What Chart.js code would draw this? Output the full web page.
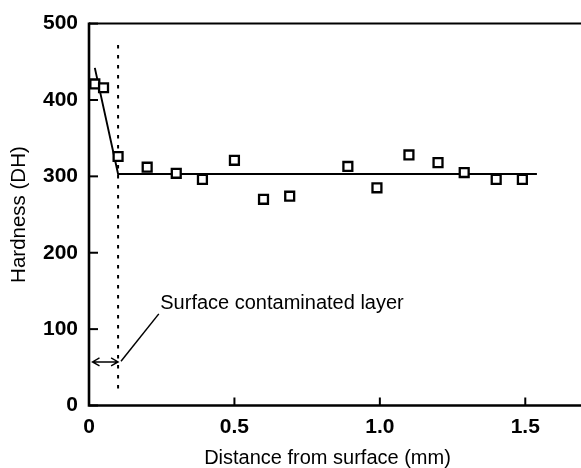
<!DOCTYPE html>
<html>
<head>
<meta charset="utf-8">
<script src="https://cdn.jsdelivr.net/npm/chart.js@4/dist/chart.umd.min.js"></script>
<style>
  html, body { margin: 0; padding: 0; background: #fff; }
  #wrap { width: 581px; height: 468px; position: relative; }
</style>
</head>
<body>
<div id="wrap"><canvas id="c" width="581" height="468"></canvas></div>
<script>
// Measured hardness profile
const depth    = [0.02, 0.05, 0.10, 0.20, 0.30, 0.39, 0.50, 0.60, 0.69, 0.89, 0.99, 1.10, 1.20, 1.29, 1.40, 1.49];
const hardness = [421, 416, 326, 312, 304, 296, 321, 270, 274, 313, 285, 328, 318, 305, 296, 296];

// Fitted trend: steep drop through the contaminated layer, then a plateau
const trendX = [0.02, 0.10, 1.54];
const trendY = [442, 303, 303];

// Boundary of the contaminated layer
const layerX = [0.10, 0.10];
const layerY = [472, 14];

// Width arrow and label leader
const arrowX = [0.012, 0.10];
const arrowY = 57;
const leaderX = [0.11, 0.24];
const leaderY = [58, 120];
const noteText = 'Surface contaminated layer';
const noteX = 0.245;
const noteY = 133;

// Axes
const xTicks = [0, 0.5, 1.0, 1.5];
const yTicks = [0, 100, 200, 300, 400, 500];
const xMax = 1.64;
const xTitle = 'Distance from surface (mm)';
const yTitle = 'Hardness (DH)';

const FONT = "'Liberation Sans', Arial, Helvetica, sans-serif";

const framePlugin = {
  id: 'frame',
  afterDraw(chart) {
    const ctx = chart.ctx;
    const a = chart.chartArea;
    const xs = chart.scales.x, ys = chart.scales.y;
    const W = chart.width;
    ctx.save();
    ctx.strokeStyle = '#000';
    ctx.lineCap = 'butt';
    // left and bottom axes
    ctx.lineWidth = 2.6;
    ctx.beginPath();
    ctx.moveTo(a.left, a.top - 1);
    ctx.lineTo(a.left, a.bottom);
    ctx.lineTo(W, a.bottom);
    ctx.stroke();
    // top frame line
    ctx.lineWidth = 2;
    ctx.beginPath();
    ctx.moveTo(a.left, a.top);
    ctx.lineTo(W, a.top);
    ctx.stroke();
    // inward tick marks
    ctx.lineWidth = 2;
    xTicks.forEach(v => {
      const px = xs.getPixelForValue(v);
      ctx.beginPath(); ctx.moveTo(px, a.bottom); ctx.lineTo(px, a.bottom - 8); ctx.stroke();
    });
    yTicks.forEach(v => {
      const py = ys.getPixelForValue(v);
      ctx.beginPath(); ctx.moveTo(a.left, py); ctx.lineTo(a.left + 9, py); ctx.stroke();
    });
    // double-headed arrow across the layer
    const x0 = xs.getPixelForValue(arrowX[0]);
    const x1 = xs.getPixelForValue(arrowX[1]);
    const ay = ys.getPixelForValue(arrowY);
    ctx.lineWidth = 1.4;
    ctx.beginPath();
    ctx.moveTo(x0, ay); ctx.lineTo(x1, ay);
    ctx.moveTo(x0 + 7, ay - 4); ctx.lineTo(x0, ay); ctx.lineTo(x0 + 7, ay + 4);
    ctx.moveTo(x1 - 7, ay - 4); ctx.lineTo(x1, ay); ctx.lineTo(x1 - 7, ay + 4);
    ctx.stroke();
    // annotation text
    ctx.fillStyle = '#000';
    ctx.font = '20px ' + FONT;
    ctx.textAlign = 'left';
    ctx.textBaseline = 'middle';
    ctx.fillText(noteText, xs.getPixelForValue(noteX), ys.getPixelForValue(noteY));
    ctx.restore();
  }
};

const pts = depth.map((d, i) => ({ x: d, y: hardness[i] }));
const trend = trendX.map((d, i) => ({ x: d, y: trendY[i] }));
const layer = layerX.map((d, i) => ({ x: d, y: layerY[i] }));
const leader = leaderX.map((d, i) => ({ x: d, y: leaderY[i] }));

new Chart(document.getElementById('c'), {
  type: 'scatter',
  data: {
    datasets: [
      { data: trend, showLine: true, borderColor: '#000', borderWidth: 1.9, pointRadius: 0, clip: false, order: 3 },
      { data: layer, showLine: true, borderColor: '#000', borderWidth: 2, borderDash: [3.5, 6.5], pointRadius: 0, clip: false, order: 4 },
      { data: leader, showLine: true, borderColor: '#000', borderWidth: 1.5, pointRadius: 0, clip: false, order: 5 },
      { data: pts, pointStyle: 'rect', pointRadius: 6.3, pointBorderWidth: 2.3, pointBackgroundColor: '#fff', pointBorderColor: '#000', clip: false, order: 1 }
    ]
  },
  options: {
    responsive: false,
    animation: false,
    events: [],
    layout: { padding: { left: 9, top: 21, right: 15, bottom: 0 } },
    plugins: { legend: { display: false }, tooltip: { enabled: false }, title: { display: false } },
    scales: {
      x: {
        type: 'linear', min: 0, max: xMax,
        afterBuildTicks: s => { s.ticks = xTicks.map(v => ({ value: v })); },
        afterFit: s => { s.height = 62.5; },
        grid: { display: false, drawTicks: false },
        border: { display: false },
        ticks: {
          padding: 9, color: '#000',
          font: { family: FONT, size: 21, weight: 'bold' },
          callback: v => v === 0 ? '0' : Number(v).toFixed(1),
          maxRotation: 0, autoSkip: false
        },
        title: { display: true, text: xTitle, color: '#000', font: { family: FONT, size: 20, lineHeight: 1 }, padding: 0 }
      },
      y: {
        type: 'linear', min: 0, max: 500,
        afterBuildTicks: s => { s.ticks = yTicks.map(v => ({ value: v })); },
        afterFit: s => { s.width = 80; },
        grid: { display: false, drawTicks: false },
        border: { display: false },
        ticks: {
          padding: 11, color: '#000',
          font: { family: FONT, size: 21, weight: 'bold' },
          callback: v => String(v)
        },
        title: { display: true, text: yTitle, color: '#000', font: { family: FONT, size: 20.5, lineHeight: 1 }, padding: 0 }
      }
    }
  },
  plugins: [framePlugin]
});
</script>
</body>
</html>
